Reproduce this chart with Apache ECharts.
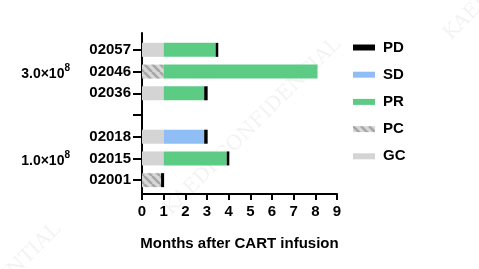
<!DOCTYPE html>
<html>
<head>
<meta charset="utf-8">
<script src="https://cdn.jsdelivr.net/npm/echarts@6/dist/echarts.min.js"></script>
<style>
  html, body { margin: 0; padding: 0; background: #fff; }
  #chart { width: 479px; height: 269px; }
</style>
</head>
<body>
<div id="chart"></div>
<script>
// patients, top to bottom; the blank entry is the gap between dose groups
const patients = ["02057", "02046", "02036", "", "02018", "02015", "02001"];
// months spent in each state (stacked left to right)
const gcMonths = [1, 0, 1, 0, 1, 1, 0];
const pcMonths = [0, 1, 0, 0, 0, 0, 0.88];
const prMonths = [2.4, 7.1, 1.87, 0, 0, 2.91, 0];
const sdMonths = [0, 0, 0, 0, 1.87, 0, 0];
const pdMonths = [0.12, 0, 0.16, 0, 0.16, 0.12, 0.14];
const legendOrder = ["PD", "SD", "PR", "PC", "GC"];
const doseLabels = ["3.0×10", "1.0×10"];
const doseRows = ["02046", "02015"];

const FONT = "Liberation Sans, Arial, Helvetica, sans-serif";

function hatch() {
  const c = document.createElement("canvas");
  c.width = c.height = 8;
  const g = c.getContext("2d");
  g.fillStyle = "#d8d8d8";
  g.fillRect(0, 0, 8, 8);
  g.strokeStyle = "#a6a6a6";
  g.lineWidth = 2.6;
  for (const o of [-8, 0, 8]) {
    g.beginPath();
    g.moveTo(o, 0);
    g.lineTo(o + 8, 8);
    g.stroke();
  }
  return c;
}

function bar(name, data, color) {
  return {
    name, type: "bar", stack: "t", data,
    xAxisIndex: 0, yAxisIndex: 0,
    barWidth: 14,
    itemStyle: { color },
    emphasis: { disabled: true }
  };
}

const chart = echarts.init(document.getElementById("chart"));
const bold = { color: "#000", fontFamily: FONT, fontWeight: "bold", fontSize: 15 };

chart.setOption({
  animation: false,
  grid: [
    { left: 142, right: 142, top: 39, bottom: 78 },
    { left: 142, right: 142, top: 33, bottom: 75 }
  ],
  legend: {
    orient: "vertical", left: 348, top: 35,
    itemWidth: 22, itemHeight: 6, itemGap: 12.2,
    icon: "rect",
    data: legendOrder,
    textStyle: { ...bold, padding: [0, 0, 0, 3] }
  },
  xAxis: [{
    gridIndex: 0, type: "value", min: 0, max: 9, interval: 1, offset: 3,
    axisLine: { show: true, lineStyle: { color: "#000", width: 2 } },
    axisTick: { show: true, length: 6, lineStyle: { color: "#000", width: 2 } },
    splitLine: { show: false },
    axisLabel: { ...bold, margin: 10 },
    name: "Months after CART infusion", nameLocation: "middle", nameGap: 42,
    nameTextStyle: { ...bold }
  }, {
    gridIndex: 1, type: "value", show: false
  }],
  yAxis: [{
    gridIndex: 0, type: "category", inverse: true, data: patients,
    axisLine: { show: false },
    axisTick: { show: true, alignWithLabel: true, length: 9, lineStyle: { color: "#000", width: 2 } },
    axisLabel: { ...bold, margin: 11 }
  }, {
    gridIndex: 1, type: "value",
    axisLine: { show: true, onZero: false, lineStyle: { color: "#000", width: 2 } },
    axisTick: { show: false }, axisLabel: { show: false }, splitLine: { show: false }
  }],
  series: [
    bar("GC", gcMonths, "#d4d4d4"),
    bar("PC", pcMonths, { image: hatch(), repeat: "repeat" }),
    bar("PR", prMonths, "#5ccb84"),
    bar("SD", sdMonths, "#8fbdf6"),
    bar("PD", pdMonths, "#000")
  ]
});

// dose group labels next to their middle patient
const wm = { fill: "rgba(0,0,0,0.05)", font: "20px 'DejaVu Serif', serif" };
chart.setOption({
  graphic: doseLabels.map((t, i) => ({
    type: "text",
    x: 70,
    y: chart.convertToPixel({ yAxisIndex: 0 }, doseRows[i]) + 1,
    style: {
      text: "{a|" + t + "}{s|8}",
      align: "right", verticalAlign: "middle",
      rich: {
        a: { fontFamily: FONT, fontWeight: "bold", fontSize: 14, lineHeight: 18, verticalAlign: "bottom" },
        s: { fontFamily: FONT, fontWeight: "bold", fontSize: 10, lineHeight: 18, verticalAlign: "top" }
      }
    }
  })).concat([
    { type: "text", x: 160, y: 205, rotation: Math.PI / 4, silent: true, style: { text: "KAEDI CONFIDENTIAL", ...wm } },
    { type: "text", x: 440, y: 30, rotation: Math.PI / 4, silent: true, style: { text: "KAEDI CONFIDENTIAL", ...wm } },
    { type: "text", x: -120, y: 390, rotation: Math.PI / 4, silent: true, style: { text: "KAEDI CONFIDENTIAL", ...wm } }
  ])
});
</script>
</body>
</html>
